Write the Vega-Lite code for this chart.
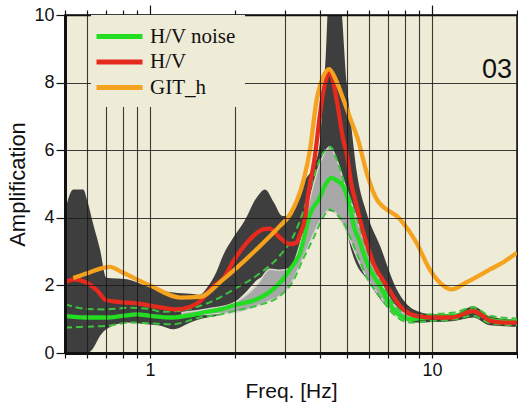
{
  "$schema": "https://vega.github.io/schema/vega-lite/v6.json",
  "autosize": {"type": "none"},
  "width": 452,
  "height": 338,
  "padding": {"left": 65, "top": 15, "right": 1, "bottom": 53},
  "background": "white",
  "config": {
    "view": {"fill": "#eeebd6", "stroke": "#111111", "strokeWidth": 1.5},
    "font": "Liberation Sans"
  },
  "datasets": {
    "hvRange": [
      {"f": 0.5, "lo": 0.0, "hi": 4.2},
      {"f": 0.535, "lo": 0.0, "hi": 4.84},
      {"f": 0.58, "lo": 0.0, "hi": 4.84},
      {"f": 0.6, "lo": 0.0, "hi": 4.5},
      {"f": 0.63, "lo": 0.15, "hi": 3.8},
      {"f": 0.665, "lo": 0.5, "hi": 3.07},
      {"f": 0.7, "lo": 0.7, "hi": 2.23},
      {"f": 0.83, "lo": 0.9, "hi": 2.18},
      {"f": 0.97, "lo": 0.85, "hi": 1.98},
      {"f": 1.1, "lo": 0.8, "hi": 1.85},
      {"f": 1.21, "lo": 0.7, "hi": 1.79},
      {"f": 1.39, "lo": 0.9, "hi": 1.75},
      {"f": 1.5, "lo": 1.0, "hi": 1.72},
      {"f": 1.6, "lo": 1.05, "hi": 1.95},
      {"f": 1.72, "lo": 1.1, "hi": 2.4},
      {"f": 1.82, "lo": 1.2, "hi": 2.9},
      {"f": 1.97, "lo": 1.45, "hi": 3.4},
      {"f": 2.16, "lo": 1.75, "hi": 3.9},
      {"f": 2.39, "lo": 2.15, "hi": 4.6},
      {"f": 2.56, "lo": 2.3, "hi": 4.84},
      {"f": 2.75, "lo": 2.45, "hi": 4.45},
      {"f": 2.95, "lo": 2.4, "hi": 4.05},
      {"f": 3.14, "lo": 2.38, "hi": 4.05},
      {"f": 3.3, "lo": 2.5, "hi": 4.4},
      {"f": 3.45, "lo": 2.8, "hi": 5.0},
      {"f": 3.6, "lo": 3.2, "hi": 5.2},
      {"f": 3.8, "lo": 3.6, "hi": 5.5},
      {"f": 4.0, "lo": 3.9, "hi": 6.2},
      {"f": 4.1, "lo": 4.05, "hi": 7.5},
      {"f": 4.2, "lo": 4.15, "hi": 8.8},
      {"f": 4.3, "lo": 4.2, "hi": 10.5},
      {"f": 4.7, "lo": 4.05, "hi": 10.5},
      {"f": 4.98, "lo": 3.6, "hi": 8.0},
      {"f": 5.19, "lo": 3.0, "hi": 6.6},
      {"f": 5.41, "lo": 2.6, "hi": 5.35},
      {"f": 5.86, "lo": 2.2, "hi": 4.15},
      {"f": 6.54, "lo": 1.6, "hi": 3.17},
      {"f": 7.5, "lo": 1.1, "hi": 1.88},
      {"f": 8.6, "lo": 0.9, "hi": 1.29},
      {"f": 10, "lo": 0.92, "hi": 1.15},
      {"f": 12, "lo": 0.95, "hi": 1.15},
      {"f": 14, "lo": 1.05, "hi": 1.38},
      {"f": 16, "lo": 0.82, "hi": 1.08},
      {"f": 20, "lo": 0.78, "hi": 0.98}
    ],
    "noiseRange": [
      {"f": 1.3, "lo": 1.1, "hi": 1.2},
      {"f": 1.6, "lo": 1.15, "hi": 1.3},
      {"f": 2.0, "lo": 1.2, "hi": 1.5},
      {"f": 2.39, "lo": 1.39, "hi": 2.0},
      {"f": 2.66, "lo": 1.55, "hi": 2.48},
      {"f": 2.89, "lo": 1.69, "hi": 2.45},
      {"f": 3.14, "lo": 2.0, "hi": 2.5},
      {"f": 3.4, "lo": 2.6, "hi": 3.2},
      {"f": 3.7, "lo": 3.3, "hi": 4.6},
      {"f": 4.0, "lo": 3.9, "hi": 5.6},
      {"f": 4.35, "lo": 4.25, "hi": 6.1},
      {"f": 4.6, "lo": 4.1, "hi": 5.7},
      {"f": 4.9, "lo": 3.7, "hi": 5.0},
      {"f": 5.2, "lo": 3.2, "hi": 4.4},
      {"f": 5.5, "lo": 2.7, "hi": 3.8},
      {"f": 5.9, "lo": 2.2, "hi": 3.0},
      {"f": 6.5, "lo": 1.7, "hi": 2.2},
      {"f": 7.3, "lo": 1.15, "hi": 1.45},
      {"f": 8.4, "lo": 0.9, "hi": 1.1}
    ],
    "noiseSd": [
      {"f": 0.5, "a": 1.44, "b": "upper"},
      {"f": 0.6, "a": 1.3, "b": "upper"},
      {"f": 0.7, "a": 1.29, "b": "upper"},
      {"f": 0.85, "a": 1.34, "b": "upper"},
      {"f": 1.0, "a": 1.3, "b": "upper"},
      {"f": 1.1, "a": 1.22, "b": "upper"},
      {"f": 1.25, "a": 1.24, "b": "upper"},
      {"f": 1.5, "a": 1.39, "b": "upper"},
      {"f": 1.72, "a": 1.59, "b": "upper"},
      {"f": 2.0, "a": 1.9, "b": "upper"},
      {"f": 2.4, "a": 2.3, "b": "upper"},
      {"f": 2.9, "a": 2.9, "b": "upper"},
      {"f": 3.2, "a": 3.4, "b": "upper"},
      {"f": 3.5, "a": 4.2, "b": "upper"},
      {"f": 3.8, "a": 5.2, "b": "upper"},
      {"f": 4.1, "a": 5.9, "b": "upper"},
      {"f": 4.35, "a": 6.1, "b": "upper"},
      {"f": 4.6, "a": 5.7, "b": "upper"},
      {"f": 4.9, "a": 5.0, "b": "upper"},
      {"f": 5.2, "a": 4.4, "b": "upper"},
      {"f": 5.5, "a": 3.8, "b": "upper"},
      {"f": 5.9, "a": 3.0, "b": "upper"},
      {"f": 6.5, "a": 2.2, "b": "upper"},
      {"f": 7.3, "a": 1.45, "b": "upper"},
      {"f": 8.4, "a": 1.12, "b": "upper"},
      {"f": 10, "a": 1.15, "b": "upper"},
      {"f": 12, "a": 1.2, "b": "upper"},
      {"f": 14, "a": 1.35, "b": "upper"},
      {"f": 16, "a": 1.1, "b": "upper"},
      {"f": 20, "a": 1.02, "b": "upper"},
      {"f": 0.5, "a": 0.75, "b": "lower"},
      {"f": 0.6, "a": 0.78, "b": "lower"},
      {"f": 0.7, "a": 0.8, "b": "lower"},
      {"f": 0.85, "a": 0.9, "b": "lower"},
      {"f": 1.0, "a": 0.88, "b": "lower"},
      {"f": 1.2, "a": 0.85, "b": "lower"},
      {"f": 1.5, "a": 1.05, "b": "lower"},
      {"f": 1.8, "a": 1.15, "b": "lower"},
      {"f": 2.0, "a": 1.25, "b": "lower"},
      {"f": 2.4, "a": 1.4, "b": "lower"},
      {"f": 2.9, "a": 1.7, "b": "lower"},
      {"f": 3.2, "a": 2.1, "b": "lower"},
      {"f": 3.5, "a": 2.8, "b": "lower"},
      {"f": 3.8, "a": 3.4, "b": "lower"},
      {"f": 4.1, "a": 4.0, "b": "lower"},
      {"f": 4.35, "a": 4.25, "b": "lower"},
      {"f": 4.6, "a": 4.1, "b": "lower"},
      {"f": 4.9, "a": 3.8, "b": "lower"},
      {"f": 5.2, "a": 3.3, "b": "lower"},
      {"f": 5.5, "a": 2.8, "b": "lower"},
      {"f": 5.9, "a": 2.2, "b": "lower"},
      {"f": 6.5, "a": 1.7, "b": "lower"},
      {"f": 7.3, "a": 1.15, "b": "lower"},
      {"f": 8.4, "a": 0.9, "b": "lower"},
      {"f": 10, "a": 0.95, "b": "lower"},
      {"f": 12, "a": 1.0, "b": "lower"},
      {"f": 14, "a": 1.1, "b": "lower"},
      {"f": 16, "a": 0.88, "b": "lower"},
      {"f": 20, "a": 0.82, "b": "lower"}
    ],
    "curves": [
      {"f": 0.5, "a": 1.09, "s": "H/V noise"},
      {"f": 0.59, "a": 1.05, "s": "H/V noise"},
      {"f": 0.7, "a": 1.05, "s": "H/V noise"},
      {"f": 0.8, "a": 1.1, "s": "H/V noise"},
      {"f": 0.9, "a": 1.14, "s": "H/V noise"},
      {"f": 1.0, "a": 1.1, "s": "H/V noise"},
      {"f": 1.2, "a": 1.05, "s": "H/V noise"},
      {"f": 1.4, "a": 1.12, "s": "H/V noise"},
      {"f": 1.6, "a": 1.22, "s": "H/V noise"},
      {"f": 1.8, "a": 1.3, "s": "H/V noise"},
      {"f": 2.0, "a": 1.42, "s": "H/V noise"},
      {"f": 2.39, "a": 1.59, "s": "H/V noise"},
      {"f": 2.7, "a": 1.85, "s": "H/V noise"},
      {"f": 2.89, "a": 2.08, "s": "H/V noise"},
      {"f": 3.14, "a": 2.48, "s": "H/V noise"},
      {"f": 3.4, "a": 2.95, "s": "H/V noise"},
      {"f": 3.69, "a": 4.1, "s": "H/V noise"},
      {"f": 4.0, "a": 4.6, "s": "H/V noise"},
      {"f": 4.2, "a": 5.0, "s": "H/V noise"},
      {"f": 4.4, "a": 5.18, "s": "H/V noise"},
      {"f": 4.6, "a": 5.1, "s": "H/V noise"},
      {"f": 4.84, "a": 4.94, "s": "H/V noise"},
      {"f": 5.13, "a": 4.25, "s": "H/V noise"},
      {"f": 5.3, "a": 3.7, "s": "H/V noise"},
      {"f": 5.5, "a": 3.36, "s": "H/V noise"},
      {"f": 5.88, "a": 2.67, "s": "H/V noise"},
      {"f": 6.53, "a": 1.98, "s": "H/V noise"},
      {"f": 7.3, "a": 1.29, "s": "H/V noise"},
      {"f": 8.36, "a": 1.0, "s": "H/V noise"},
      {"f": 10, "a": 1.07, "s": "H/V noise"},
      {"f": 12, "a": 1.1, "s": "H/V noise"},
      {"f": 13.3, "a": 1.2, "s": "H/V noise"},
      {"f": 14, "a": 1.25, "s": "H/V noise"},
      {"f": 14.8, "a": 1.15, "s": "H/V noise"},
      {"f": 16, "a": 0.98, "s": "H/V noise"},
      {"f": 18, "a": 0.93, "s": "H/V noise"},
      {"f": 20, "a": 0.93, "s": "H/V noise"},
      {"f": 0.5, "a": 2.1, "s": "H/V"},
      {"f": 0.54, "a": 2.18, "s": "H/V"},
      {"f": 0.59, "a": 2.1, "s": "H/V"},
      {"f": 0.65, "a": 1.85, "s": "H/V"},
      {"f": 0.7, "a": 1.56, "s": "H/V"},
      {"f": 0.83, "a": 1.49, "s": "H/V"},
      {"f": 0.9, "a": 1.47, "s": "H/V"},
      {"f": 1.0, "a": 1.4, "s": "H/V"},
      {"f": 1.09, "a": 1.35, "s": "H/V"},
      {"f": 1.24, "a": 1.29, "s": "H/V"},
      {"f": 1.39, "a": 1.37, "s": "H/V"},
      {"f": 1.5, "a": 1.52, "s": "H/V"},
      {"f": 1.68, "a": 1.98, "s": "H/V"},
      {"f": 1.82, "a": 2.2, "s": "H/V"},
      {"f": 1.97, "a": 2.7, "s": "H/V"},
      {"f": 2.26, "a": 3.36, "s": "H/V"},
      {"f": 2.52, "a": 3.66, "s": "H/V"},
      {"f": 2.66, "a": 3.68, "s": "H/V"},
      {"f": 2.89, "a": 3.41, "s": "H/V"},
      {"f": 3.14, "a": 3.22, "s": "H/V"},
      {"f": 3.31, "a": 3.27, "s": "H/V"},
      {"f": 3.4, "a": 3.5, "s": "H/V"},
      {"f": 3.54, "a": 3.96, "s": "H/V"},
      {"f": 3.64, "a": 4.7, "s": "H/V"},
      {"f": 3.84, "a": 5.8, "s": "H/V"},
      {"f": 4.0, "a": 7.0, "s": "H/V"},
      {"f": 4.11, "a": 7.7, "s": "H/V"},
      {"f": 4.35, "a": 8.3, "s": "H/V"},
      {"f": 4.59, "a": 7.5, "s": "H/V"},
      {"f": 4.84, "a": 6.32, "s": "H/V"},
      {"f": 4.98, "a": 5.9, "s": "H/V"},
      {"f": 5.19, "a": 4.94, "s": "H/V"},
      {"f": 5.33, "a": 4.55, "s": "H/V"},
      {"f": 5.71, "a": 3.56, "s": "H/V"},
      {"f": 6.19, "a": 2.67, "s": "H/V"},
      {"f": 6.92, "a": 1.98, "s": "H/V"},
      {"f": 7.7, "a": 1.39, "s": "H/V"},
      {"f": 8.83, "a": 1.09, "s": "H/V"},
      {"f": 10.08, "a": 1.05, "s": "H/V"},
      {"f": 11.6, "a": 1.05, "s": "H/V"},
      {"f": 12.5, "a": 1.1, "s": "H/V"},
      {"f": 13.3, "a": 1.2, "s": "H/V"},
      {"f": 14.0, "a": 1.24, "s": "H/V"},
      {"f": 14.8, "a": 1.15, "s": "H/V"},
      {"f": 16.1, "a": 0.95, "s": "H/V"},
      {"f": 18, "a": 0.9, "s": "H/V"},
      {"f": 20, "a": 0.9, "s": "H/V"},
      {"f": 0.535, "a": 2.22, "s": "GIT_h"},
      {"f": 0.6, "a": 2.36, "s": "GIT_h"},
      {"f": 0.72, "a": 2.55, "s": "GIT_h"},
      {"f": 0.8, "a": 2.38, "s": "GIT_h"},
      {"f": 1.0, "a": 2.0, "s": "GIT_h"},
      {"f": 1.28, "a": 1.64, "s": "GIT_h"},
      {"f": 1.5, "a": 1.66, "s": "GIT_h"},
      {"f": 1.82, "a": 2.18, "s": "GIT_h"},
      {"f": 2.39, "a": 3.07, "s": "GIT_h"},
      {"f": 2.89, "a": 3.76, "s": "GIT_h"},
      {"f": 3.14, "a": 4.1, "s": "GIT_h"},
      {"f": 3.5, "a": 5.1, "s": "GIT_h"},
      {"f": 3.69, "a": 6.0, "s": "GIT_h"},
      {"f": 3.9, "a": 7.5, "s": "GIT_h"},
      {"f": 4.1, "a": 8.15, "s": "GIT_h"},
      {"f": 4.32, "a": 8.4, "s": "GIT_h"},
      {"f": 4.55, "a": 8.1, "s": "GIT_h"},
      {"f": 4.85, "a": 7.5, "s": "GIT_h"},
      {"f": 5.15, "a": 6.9, "s": "GIT_h"},
      {"f": 5.47, "a": 6.3, "s": "GIT_h"},
      {"f": 5.88, "a": 5.3, "s": "GIT_h"},
      {"f": 6.36, "a": 4.55, "s": "GIT_h"},
      {"f": 7.7, "a": 3.96, "s": "GIT_h"},
      {"f": 8.8, "a": 3.27, "s": "GIT_h"},
      {"f": 9.8, "a": 2.48, "s": "GIT_h"},
      {"f": 11.0, "a": 1.98, "s": "GIT_h"},
      {"f": 11.7, "a": 1.88, "s": "GIT_h"},
      {"f": 13.3, "a": 2.1, "s": "GIT_h"},
      {"f": 16.1, "a": 2.48, "s": "GIT_h"},
      {"f": 18, "a": 2.7, "s": "GIT_h"},
      {"f": 20, "a": 2.97, "s": "GIT_h"}
    ],
    "site": [
      {"f": 19.2, "a": 8.15, "label": "03"}
    ]
  },
  "resolve": {"axis": {"x": "independent"}},
  "layer": [
    {
      "data": {"name": "hvRange"},
      "mark": {"type": "area", "color": "#3e3e3e", "clip": true, "interpolate": "monotone"},
      "encoding": {
        "x": {
          "field": "f", "type": "quantitative",
          "scale": {"type": "log", "domain": [0.5, 20], "nice": false},
          "axis": {
            "orient": "bottom",
            "values": [0.5, 0.6, 0.7, 0.8, 0.9, 1, 2, 3, 4, 5, 6, 7, 8, 9, 10, 20],
            "labelExpr": "datum.value == 1 ? '1' : datum.value == 10 ? '10' : ''",
            "title": "Freq. [Hz]",
            "titleFontSize": 21,
            "titleFontWeight": "normal",
            "titleColor": "#111111",
            "titlePadding": 1,
            "labelFontSize": 18,
            "labelColor": "#111111",
            "labelPadding": 3,
            "labelFlush": false,
            "labelOverlap": false,
            "tickSize": 5,
            "tickColor": "#111111",
            "tickWidth": 1.2,
            "domainColor": "#111111",
            "domainWidth": 3,
            "grid": true,
            "gridColor": "#1a1a1a",
            "gridWidth": 1.1,
            "gridOpacity": 0.85,
            "zindex": 1
          }
        },
        "y": {
          "field": "lo", "type": "quantitative",
          "scale": {"domain": [0, 10], "nice": false},
          "axis": {
            "values": [0, 1, 2, 3, 4, 5, 6, 7, 8, 9, 10],
            "labelExpr": "datum.value % 2 == 0 ? datum.label : ''",
            "title": "Amplification",
            "titleFontSize": 22,
            "titleFontWeight": "normal",
            "titleColor": "#111111",
            "titlePadding": 4,
            "labelFontSize": 18,
            "labelColor": "#111111",
            "labelPadding": 2,
            "labelFlush": false,
            "labelOverlap": false,
            "tickSize": {"condition": {"test": "datum.value % 2 == 0", "value": 9}, "value": 6},
            "tickColor": "#111111",
            "tickWidth": 1.2,
            "domainColor": "#111111",
            "domainWidth": 3,
            "grid": true,
            "gridColor": "#1a1a1a",
            "gridWidth": 1.1,
            "gridOpacity": 0.85,
            "zindex": 1
          }
        },
        "y2": {"field": "hi"}
      }
    },
    {
      "data": {"name": "noiseRange"},
      "mark": {"type": "area", "color": "#a8a8a8", "stroke": "#d6d6cc", "strokeWidth": 1.5, "clip": true, "interpolate": "monotone"},
      "encoding": {
        "x": {
          "field": "f", "type": "quantitative",
          "axis": {
            "orient": "top",
            "values": [0.5, 0.6, 0.7, 0.8, 0.9, 1, 2, 3, 4, 5, 6, 7, 8, 9, 10, 20],
            "labels": false,
            "title": null,
            "grid": false,
            "tickSize": {"condition": {"test": "datum.value == 1 || datum.value == 10", "value": 10}, "value": 5},
            "tickColor": "#111111",
            "tickWidth": 1.2,
            "domainColor": "#111111",
            "domainWidth": 1.5,
            "zindex": 1
          }
        },
        "y": {"field": "lo", "type": "quantitative"},
        "y2": {"field": "hi"}
      }
    },
    {
      "data": {"name": "noiseSd"},
      "mark": {"type": "line", "color": "#3cc43c", "strokeWidth": 2, "strokeDash": [7, 4], "clip": true, "interpolate": "monotone"},
      "encoding": {
        "x": {"field": "f", "type": "quantitative", "axis": null},
        "y": {"field": "a", "type": "quantitative"},
        "detail": {"field": "b"}
      }
    },
    {
      "data": {"name": "curves"},
      "mark": {"type": "line", "strokeWidth": 4.3, "clip": true, "interpolate": "monotone"},
      "encoding": {
        "x": {"field": "f", "type": "quantitative", "axis": null},
        "y": {"field": "a", "type": "quantitative"},
        "color": {
          "field": "s", "type": "nominal",
          "sort": ["H/V noise", "H/V", "GIT_h"],
          "scale": {"domain": ["H/V noise", "H/V", "GIT_h"], "range": ["#22dd22", "#e62a1e", "#f5a21e"]},
          "legend": {
            "orient": "none",
            "legendX": 26,
            "legendY": 0,
            "title": null,
            "padding": 9,
            "fillColor": "#eeebd6",
            "strokeColor": null,
            "symbolType": "M-1.6,0H3.0",
            "symbolSize": 400,
            "symbolStrokeWidth": 5,
            "labelFont": "Liberation Serif",
            "labelFontSize": 21,
            "labelColor": "#111111",
            "labelOffset": 25,
            "rowPadding": 2.5,
            "zindex": 2
          }
        }
      }
    },
    {
      "data": {"name": "site"},
      "mark": {"type": "text", "align": "right", "baseline": "alphabetic", "fontSize": 27, "font": "Liberation Sans", "color": "#111111"},
      "encoding": {
        "x": {"field": "f", "type": "quantitative", "axis": null},
        "y": {"field": "a", "type": "quantitative"},
        "text": {"field": "label"}
      }
    }
  ]
}
